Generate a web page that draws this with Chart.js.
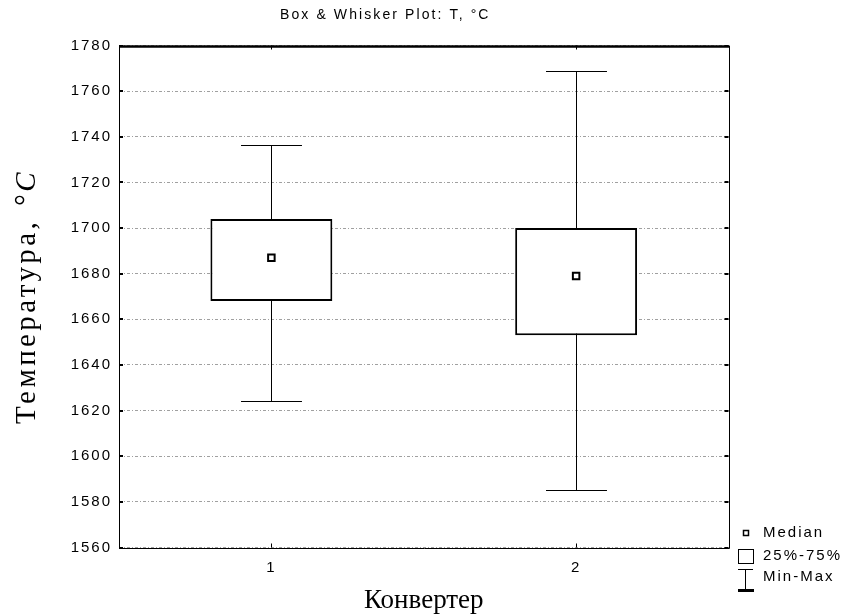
<!DOCTYPE html>
<html>
<head>
<meta charset="utf-8">
<script src="https://cdn.jsdelivr.net/npm/chart.js@4"></script>
<style>
html,body{margin:0;padding:0;background:#fff;}
#wrap{width:843px;height:615px;}
</style>
</head>
<body>
<div id="wrap"><canvas id="c" width="843" height="615"></canvas></div>
<script>
// ---- data ----
const categories = ['1', '2'];
const minValues = [1624, 1585];
const q1Values = [1668, 1653];
const medianValues = [1687, 1679];
const q3Values = [1704, 1700];
const maxValues = [1736.5, 1769];
const yTicks = [1560, 1580, 1600, 1620, 1640, 1660, 1680, 1700, 1720, 1740, 1760, 1780];
const chartTitle = 'Box & Whisker Plot: T, °C';
const xTitle = 'Конвертер';
const yTitleMain = 'Температура,';
const yTitleUnit = '°C';
const legendLabels = ['Median', '25%-75%', 'Min-Max'];

const SANS = "'Liberation Sans', Arial, sans-serif";
const SERIF = "'Liberation Serif', 'Times New Roman', serif";
const SPACING = '2px';

const whiskerPlugin = {
  id: 'whiskers',
  beforeDatasetsDraw(chart) {
    const {ctx, scales: {x, y}} = chart;
    const meta = chart.getDatasetMeta(1);
    ctx.save();
    ctx.strokeStyle = '#000';
    ctx.lineWidth = 1;
    categories.forEach((c, i) => {
      const bar = meta.data[i];
      const cx = Math.round(x.getPixelForValue(i)) + 0.5;
      const half = bar.width / 4;
      const yMin = Math.round(y.getPixelForValue(minValues[i])) + 0.5;
      const yMax = Math.round(y.getPixelForValue(maxValues[i])) + 0.5;
      ctx.beginPath();
      ctx.moveTo(cx, yMin); ctx.lineTo(cx, yMax);
      ctx.moveTo(cx - half, yMin); ctx.lineTo(cx + half, yMin);
      ctx.moveTo(cx - half, yMax); ctx.lineTo(cx + half, yMax);
      ctx.stroke();
    });
    ctx.restore();
  },
  afterDatasetsDraw(chart) {
    chart.ctx.letterSpacing = SPACING;
  },
  afterDraw(chart) {
    const {ctx, chartArea: a, scales: {x, y}} = chart;
    ctx.save();
    ctx.letterSpacing = '0px';
    // frame
    ctx.strokeStyle = '#000';
    ctx.lineWidth = 1;
    ctx.beginPath();
    ctx.moveTo(Math.round(a.left) + 0.5, Math.round(a.top));
    ctx.lineTo(Math.round(a.left) + 0.5, Math.round(a.bottom) + 0.5);
    ctx.lineTo(Math.round(a.right) + 0.5, Math.round(a.bottom) + 0.5);
    ctx.lineTo(Math.round(a.right) + 0.5, Math.round(a.top));
    ctx.stroke();
    ctx.lineWidth = 2.5;
    ctx.beginPath();
    ctx.moveTo(a.left, Math.round(a.top) + 0.5);
    ctx.lineTo(a.right + 1, Math.round(a.top) + 0.5);
    ctx.stroke();
    // inner tick marks
    ctx.lineWidth = 2;
    ctx.beginPath();
    yTicks.forEach(v => {
      const py = Math.round(y.getPixelForValue(v));
      ctx.moveTo(a.left, py); ctx.lineTo(a.left + 4, py);
      ctx.moveTo(a.right, py); ctx.lineTo(a.right - 4, py);
    });
    ctx.stroke();
    ctx.lineWidth = 1;
    ctx.beginPath();
    categories.forEach((c, i) => {
      const px = Math.round(x.getPixelForValue(i)) + 0.5;
      ctx.moveTo(px, a.top); ctx.lineTo(px, a.top + 4);
      ctx.moveTo(px, a.bottom); ctx.lineTo(px, a.bottom - 4);
    });
    ctx.stroke();

    // chart title
    ctx.fillStyle = '#000';
    ctx.font = '14px ' + SANS;
    ctx.letterSpacing = '2.1px';
    ctx.textAlign = 'left';
    ctx.textBaseline = 'middle';
    ctx.fillText(chartTitle, 280, 15);

    // y axis title (rotated), centred on the plot area
    ctx.save();
    ctx.translate(27, (a.top + a.bottom) / 2);
    ctx.rotate(-Math.PI / 2);
    ctx.letterSpacing = '3.4px';
    ctx.font = '29px ' + SERIF;
    const wMain = ctx.measureText(yTitleMain).width;
    ctx.font = 'italic 29px ' + SERIF;
    const wUnit = ctx.measureText(yTitleUnit).width;
    const gap = 12;
    const total = wMain + gap + wUnit;
    ctx.textAlign = 'left';
    ctx.textBaseline = 'middle';
    ctx.font = '29px ' + SERIF;
    ctx.fillText(yTitleMain, -total / 2, 0);
    ctx.font = 'italic 29px ' + SERIF;
    ctx.fillText(yTitleUnit, -total / 2 + wMain + gap, 0);
    ctx.restore();

    // legend
    ctx.letterSpacing = SPACING;
    ctx.font = '15px ' + SANS;
    ctx.textAlign = 'left';
    ctx.textBaseline = 'middle';
    const lx = 763;
    ctx.lineWidth = 1.5;
    ctx.strokeRect(743.5, 530.5, 5, 5);
    ctx.fillText(legendLabels[0], lx, 533);
    ctx.lineWidth = 1;
    ctx.strokeRect(738.5, 549.5, 15, 14);
    ctx.fillText(legendLabels[1], lx, 556);
    ctx.beginPath();
    ctx.moveTo(738, 569.5); ctx.lineTo(753, 569.5);
    ctx.moveTo(745.5, 569.5); ctx.lineTo(745.5, 590);
    ctx.stroke();
    ctx.lineWidth = 3;
    ctx.beginPath();
    ctx.moveTo(738, 590.5); ctx.lineTo(754, 590.5);
    ctx.stroke();
    ctx.fillText(legendLabels[2], lx, 577);
    ctx.restore();
    ctx.letterSpacing = '0px';
  }
};

new Chart(document.getElementById('c'), {
  type: 'bar',
  data: {
    labels: categories,
    datasets: [
      {
        type: 'line',
        label: legendLabels[0],
        data: medianValues,
        showLine: false,
        pointStyle: 'rect',
        pointRadius: 4.6,
        pointBackgroundColor: '#fff',
        pointBorderColor: '#000',
        pointBorderWidth: 2,
        order: 0
      },
      {
        type: 'bar',
        label: legendLabels[1],
        data: categories.map((c, i) => [q1Values[i], q3Values[i]]),
        backgroundColor: '#fff',
        borderColor: '#000',
        borderWidth: 2,
        borderSkipped: false,
        barPercentage: 0.4,
        categoryPercentage: 1,
        order: 1
      }
    ]
  },
  options: {
    responsive: false,
    animation: false,
    devicePixelRatio: 1,
    layout: {padding: {top: 45.5, right: 114.5, left: 0, bottom: 0}},
    plugins: {
      legend: {display: false},
      tooltip: {enabled: false},
      title: {display: false}
    },
    scales: {
      x: {
        type: 'category',
        offset: true,
        grid: {display: false, drawTicks: false},
        border: {display: false},
        ticks: {font: {family: SANS, size: 15}, color: '#000', padding: 11, z: 1},
        title: {display: true, text: xTitle, color: '#000',
                font: {family: SERIF, size: 27, lineHeight: 1}, padding: {top: 0, bottom: 1}},
        afterFit: s => { s.height = 67.5; }
      },
      y: {
        min: 1560,
        max: 1780,
        afterBuildTicks: s => { s.ticks = yTicks.map(v => ({value: v})); },
        grid: {color: '#a0a0a0', lineWidth: 1, drawTicks: false},
        border: {display: false, dash: [3, 2, 1, 2]},
        ticks: {font: {family: SANS, size: 15}, color: '#000', padding: 7, z: 1,
                callback: v => String(v)},
        title: {display: false},
        afterFit: s => { s.width = 119; }
      }
    }
  },
  plugins: [whiskerPlugin]
});
</script>
</body>
</html>
